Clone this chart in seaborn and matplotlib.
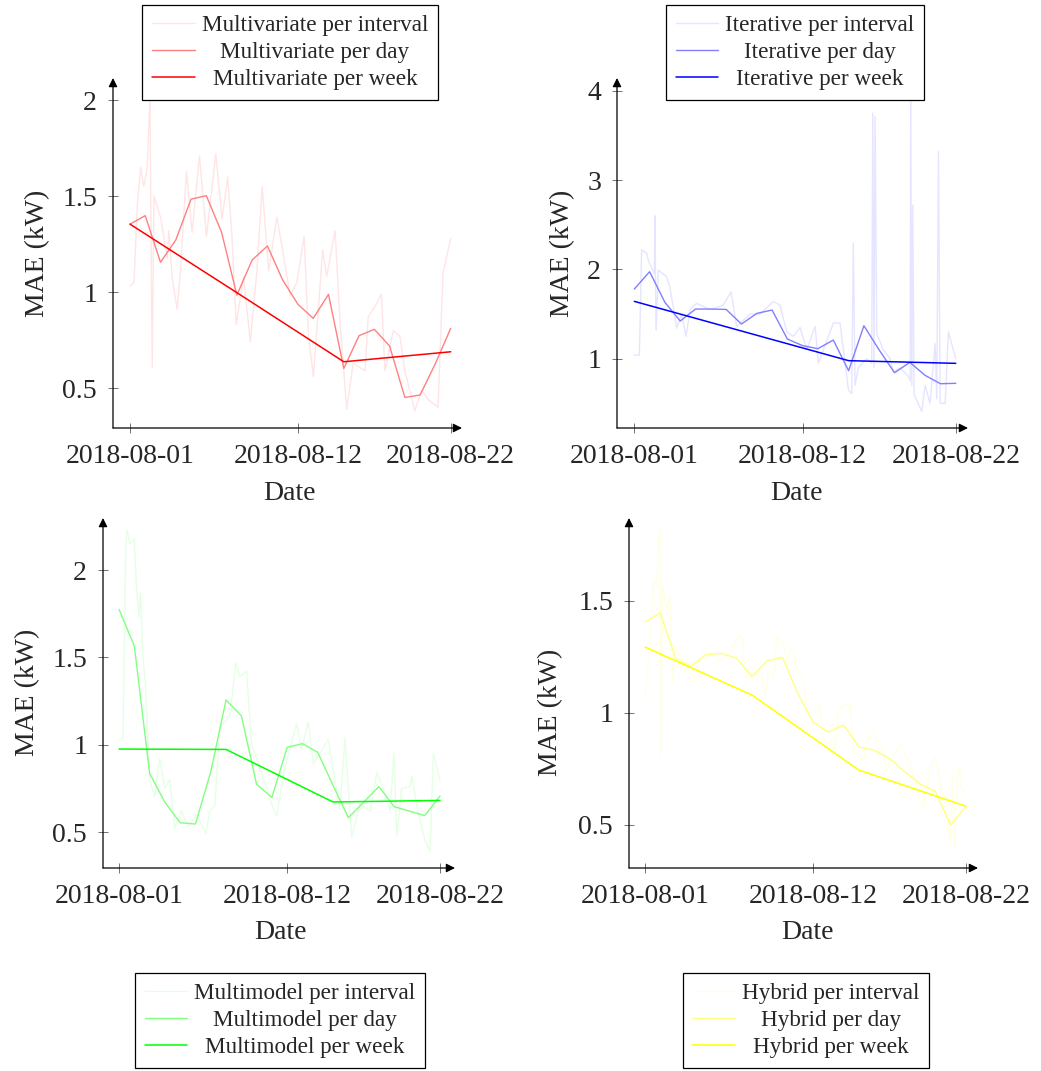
"""
MAE over August 2018 for the four forecasting approaches,
shown per interval, per day and per week.
"""

import pandas as pd
import seaborn as sns
import matplotlib.pyplot as plt
import matplotlib.dates as mdates
from matplotlib.ticker import FuncFormatter

# Data
start = pd.Timestamp('2018-08-01')
day_offsets = list(range(22))
week_offsets = [0, 7, 14, 21]
date_ticks = ['2018-08-01', '2018-08-12', '2018-08-22']

multivariate_day = [1.354, 1.398, 1.155, 1.271, 1.484, 1.502, 1.311, 0.984, 1.167, 1.240, 1.063,
                    0.936, 0.863, 0.988, 0.602, 0.773, 0.806, 0.719, 0.451, 0.464, 0.628, 0.811]
multivariate_week = [1.354, 0.997, 0.637, 0.689]
multivariate_int_t = [0.00, 0.26, 0.48, 0.70, 0.91, 1.13, 1.31, 1.39, 1.46, 1.57, 2.00, 2.44, 2.55,
                      2.76, 3.09, 3.31, 3.53, 3.70, 4.07, 4.55, 5.01, 5.31, 5.62, 6.03, 6.40, 6.68,
                      6.96, 7.44, 7.88, 8.31, 8.66, 9.08, 9.62, 9.95, 10.49, 10.93, 11.40, 11.69,
                      12.01, 12.62, 12.88, 13.43, 13.75, 14.19, 14.62, 15.39, 15.60, 16.15, 16.47,
                      16.69, 17.24, 17.67, 18.00, 18.65, 19.09, 19.52, 20.17, 20.50, 21.00]
multivariate_int = [1.03, 1.05, 1.45, 1.65, 1.55, 1.65, 2.02, 1.20, 0.61, 1.50, 1.39, 1.18, 1.32,
                    1.08, 0.91, 1.11, 1.41, 1.63, 1.31, 1.71, 1.29, 1.50, 1.72, 1.38, 1.60, 1.29,
                    0.83, 1.08, 0.74, 1.11, 1.55, 1.11, 1.39, 1.24, 0.98, 1.05, 1.29, 0.77, 0.56,
                    1.22, 1.08, 1.32, 0.85, 0.39, 0.63, 0.59, 0.87, 0.94, 0.99, 0.59, 0.80, 0.77,
                    0.59, 0.38, 0.49, 0.44, 0.40, 1.10, 1.28]

iterative_day = [1.780, 1.974, 1.631, 1.422, 1.556, 1.556, 1.552, 1.388, 1.507, 1.545, 1.220,
                 1.146, 1.112, 1.209, 0.866, 1.369, 1.097, 0.843, 0.959, 0.813, 0.720, 0.724]
iterative_week = [1.642, 1.31, 0.978, 0.948]
iterative_int_t = [0.00, 0.33, 0.48, 0.81, 0.92, 1.31, 1.35, 1.42, 1.57, 2.11, 2.33, 2.77, 3.09,
                   3.38, 3.64, 4.07, 4.95, 5.82, 6.32, 6.69, 7.56, 8.21, 9.08, 9.52, 9.96, 10.39,
                   10.83, 11.26, 11.81, 12.03, 12.57, 13.01, 13.44, 13.66, 13.99, 14.20, 14.31,
                   14.42, 14.64, 15.18, 15.51, 15.58, 15.66, 15.73, 15.84, 16.27, 16.71, 16.93,
                   17.36, 17.91, 18.02, 18.06, 18.13, 18.19, 18.28, 18.78, 19.00, 19.32, 19.65,
                   19.76, 19.87, 19.98, 20.31, 20.52, 21.00]
iterative_int = [1.04, 1.04, 2.22, 2.18, 2.10, 1.95, 2.60, 1.32, 1.99, 1.92, 1.80, 1.34, 1.50,
                 1.25, 1.55, 1.62, 1.55, 1.60, 1.75, 1.36, 1.50, 1.50, 1.64, 1.60, 1.30, 1.25,
                 1.35, 1.10, 1.36, 0.95, 1.20, 1.40, 1.40, 1.10, 0.65, 0.61, 2.29, 0.70, 0.90,
                 1.00, 0.95, 3.75, 0.90, 3.71, 1.28, 1.10, 1.00, 0.85, 0.90, 0.80, 0.75, 3.90,
                 0.70, 2.72, 0.60, 0.41, 0.70, 0.50, 1.17, 0.55, 3.32, 0.50, 0.50, 1.30, 1.00]

multimodel_day = [1.775, 1.565, 0.836, 0.670, 0.553, 0.546, 0.845, 1.256, 1.166, 0.773, 0.698,
                  0.985, 1.006, 0.956, 0.767, 0.582, 0.670, 0.760, 0.645, 0.620, 0.594, 0.706]
multimodel_week = [0.975, 0.973, 0.672, 0.681]
multimodel_int_t = [0.00, 0.26, 0.44, 0.52, 0.70, 1.00, 1.14, 1.31, 1.40, 1.57, 1.72, 2.01, 2.34,
                    2.66, 2.99, 3.32, 3.65, 4.08, 4.52, 5.07, 5.68, 5.94, 6.27, 6.59, 7.25, 7.64,
                    7.90, 8.34, 8.67, 9.21, 9.98, 10.31, 10.85, 11.62, 11.94, 12.38, 12.71, 13.69,
                    14.02, 14.45, 14.78, 15.22, 15.76, 16.42, 16.86, 17.29, 17.73, 17.99, 18.17,
                    18.49, 19.04, 19.15, 19.59, 20.02, 20.35, 20.57, 21.00]
multimodel_int = [1.03, 1.04, 2.15, 2.23, 2.15, 2.18, 1.90, 1.73, 1.87, 1.50, 1.35, 0.80, 0.70,
                  0.92, 0.75, 0.80, 0.52, 0.62, 0.53, 0.60, 0.49, 0.62, 0.65, 1.10, 1.16, 1.47,
                  1.39, 1.42, 1.00, 0.87, 0.66, 0.59, 0.87, 1.12, 0.97, 1.13, 0.89, 1.03, 0.85,
                  0.63, 1.04, 0.47, 0.66, 0.62, 0.84, 0.75, 0.62, 0.95, 0.48, 0.75, 0.76, 0.82,
                  0.60, 0.45, 0.39, 0.95, 0.79]

hybrid_day = [1.405, 1.445, 1.243, 1.208, 1.259, 1.265, 1.243, 1.161, 1.232, 1.247, 1.086,
              0.957, 0.914, 0.945, 0.847, 0.833, 0.796, 0.737, 0.682, 0.650, 0.499, 0.580]
hybrid_week = [1.293, 1.079, 0.744, 0.583]
hybrid_int_t = [0.00, 0.33, 0.55, 0.76, 0.87, 0.98, 1.05, 1.14, 1.42, 1.64, 1.79, 1.97, 2.29,
                2.62, 3.06, 3.34, 3.71, 4.26, 4.91, 5.57, 5.90, 6.33, 6.62, 6.88, 7.31, 7.64,
                7.86, 8.08, 8.41, 8.62, 9.06, 9.28, 9.54, 9.72, 9.93, 10.26, 10.59, 10.81, 11.24,
                11.40, 11.68, 11.90, 12.23, 12.45, 12.66, 12.99, 13.43, 13.65, 13.86, 14.08,
                14.30, 14.52, 14.96, 15.28, 15.61, 15.83, 16.16, 16.48, 16.81, 17.14, 17.47,
                17.79, 18.01, 18.23, 18.45, 18.78, 18.99, 19.21, 19.43, 19.65, 19.87, 19.98,
                20.13, 20.26, 20.41, 20.57, 20.74, 21.00]
hybrid_int = [1.07, 1.30, 1.59, 1.56, 1.77, 1.82, 0.80, 1.57, 1.46, 1.52, 1.13, 1.30, 1.25,
              1.18, 1.21, 1.13, 1.27, 1.26, 1.23, 1.26, 1.32, 1.35, 1.13, 1.21, 1.17, 1.16,
              1.08, 1.19, 1.15, 1.34, 1.31, 1.22, 1.29, 1.28, 1.19, 1.17, 1.04, 1.00, 1.01,
              1.04, 0.89, 0.86, 0.88, 0.83, 1.01, 1.03, 1.04, 0.83, 0.82, 0.80, 0.79, 0.88,
              0.91, 0.86, 0.83, 0.74, 0.80, 0.83, 0.86, 0.80, 0.74, 0.68, 0.60, 0.57, 0.68,
              0.77, 0.80, 0.74, 0.65, 0.61, 0.47, 0.42, 0.74, 0.39, 0.69, 0.76, 0.67, 0.64]

# Style
sns.set_style('white')
plt.rcParams['font.family'] = ['Liberation Serif', 'DejaVu Serif']

W, H = 1041, 1071
fig = plt.figure(figsize=(W / 100, H / 100), dpi=100)


def to_dates(offsets):
    return start + pd.to_timedelta(offsets, unit='D')


def px_rect(x0, x1, y0, y1):
    return [x0 / W, 1 - y1 / H, (x1 - x0) / W, (y1 - y0) / H]


def center_legend_text(leg):
    # pgfplots centres the legend text in its column
    fig.canvas.draw()
    r = fig.canvas.get_renderer()
    widths = [t.get_window_extent(r).width * 72 / fig.dpi for t in leg.get_texts()]
    col = leg._legend_handle_box.get_children()[0]
    for row, w in zip(col.get_children(), widths):
        row.sep += (max(widths) - w) / 2


def panel(rect, xlim, ylim, yticks, name, colors, int_t, int_v, day_v, week_v,
          ylab_xy, xlab_xy, leg_xy, leg_loc):
    ax = fig.add_axes(px_rect(*rect))
    sns.lineplot(x=to_dates(int_t), y=int_v, ax=ax, color=colors[0], lw=1.0,
                 estimator=None, label=name + ' per interval')
    sns.lineplot(x=to_dates(day_offsets), y=day_v, ax=ax, color=colors[1], lw=1.0,
                 estimator=None, label=name + ' per day')
    sns.lineplot(x=to_dates(week_offsets), y=week_v, ax=ax, color=colors[2], lw=1.1,
                 estimator=None, label=name + ' per week')

    ax.set_xlim(start + pd.Timedelta(days=xlim[0]), start + pd.Timedelta(days=xlim[1]))
    ax.set_ylim(*ylim)
    ax.set_xticks(pd.to_datetime(date_ticks))
    ax.xaxis.set_major_formatter(mdates.DateFormatter('%Y-%m-%d'))
    ax.set_yticks(yticks)
    ax.yaxis.set_major_formatter(FuncFormatter(lambda v, p: '{:g}'.format(v)))

    for s in ax.spines.values():
        s.set_visible(False)
    for end in [(1, 0), (0, 1)]:
        ax.annotate('', xy=end, xytext=(0, 0), xycoords='axes fraction',
                    arrowprops=dict(arrowstyle='-|>', color='black', lw=0.9,
                                    mutation_scale=13, shrinkA=0, shrinkB=0))
    ax.tick_params(direction='inout', length=7, width=0.7, color='0.45',
                   labelsize=20, top=False, right=False, left=True, bottom=True)
    ax.tick_params(axis='x', pad=8)
    ax.tick_params(axis='y', pad=8)

    ax.set_ylabel('MAE (kW)', fontsize=20)
    ax.set_xlabel('Date', fontsize=20)
    ax.yaxis.set_label_coords(*ylab_xy)
    ax.xaxis.set_label_coords(*xlab_xy)
    ax.yaxis.label.set_va('center')
    ax.xaxis.label.set_va('center')

    handles, labels = ax.get_legend_handles_labels()
    ax.get_legend().remove()
    leg = ax.legend(handles, labels, loc=leg_loc, bbox_to_anchor=leg_xy,
                    bbox_transform=fig.transFigure, fontsize=16.7, frameon=True,
                    fancybox=False, framealpha=1, edgecolor='black',
                    handlelength=1.85, handletextpad=0.3, labelspacing=0.25,
                    borderpad=0.42, borderaxespad=0)
    leg.get_frame().set_linewidth(0.9)
    return leg


legends = [
    panel((113, 462, 78, 428), (-1.11, 21.74), (0.292, 2.115), [0.5, 1, 1.5, 2],
          'Multivariate', ['#ffe5e5', '#ff8080', '#ff0000'],
          multivariate_int_t, multivariate_int, multivariate_day, multivariate_week,
          (-0.215, 0.5), (0.507, -0.186), (290 / W, 1 - 5 / H), 'upper center'),
    panel((617, 968, 78, 428), (-1.13, 21.8), (0.224, 4.143), [1, 2, 3, 4],
          'Iterative', ['#e5e5ff', '#8080ff', '#0000ff'],
          iterative_int_t, iterative_int, iterative_day, iterative_week,
          (-0.154, 0.5), (0.511, -0.186), (795 / W, 1 - 5 / H), 'upper center'),
    panel((103, 455, 518, 868), (-1.05, 21.98), (0.294, 2.298), [0.5, 1, 1.5, 2],
          'Multimodel', ['#e5ffe5', '#80ff80', '#00ff00'],
          multimodel_int_t, multimodel_int, multimodel_day, multimodel_week,
          (-0.213, 0.503), (0.504, -0.183), (280 / W, 1 - 1068 / H), 'lower center'),
    panel((629, 978, 518, 868), (-1.05, 21.8), (0.307, 1.869), [0.5, 1, 1.5],
          'Hybrid', ['#ffffe5', '#ffff80', '#ffff00'],
          hybrid_int_t, hybrid_int, hybrid_day, hybrid_week,
          (-0.226, 0.446), (0.51, -0.183), (806 / W, 1 - 1068 / H), 'lower center'),
]

for leg in legends:
    center_legend_text(leg)

fig.savefig('out.png', dpi=100)
